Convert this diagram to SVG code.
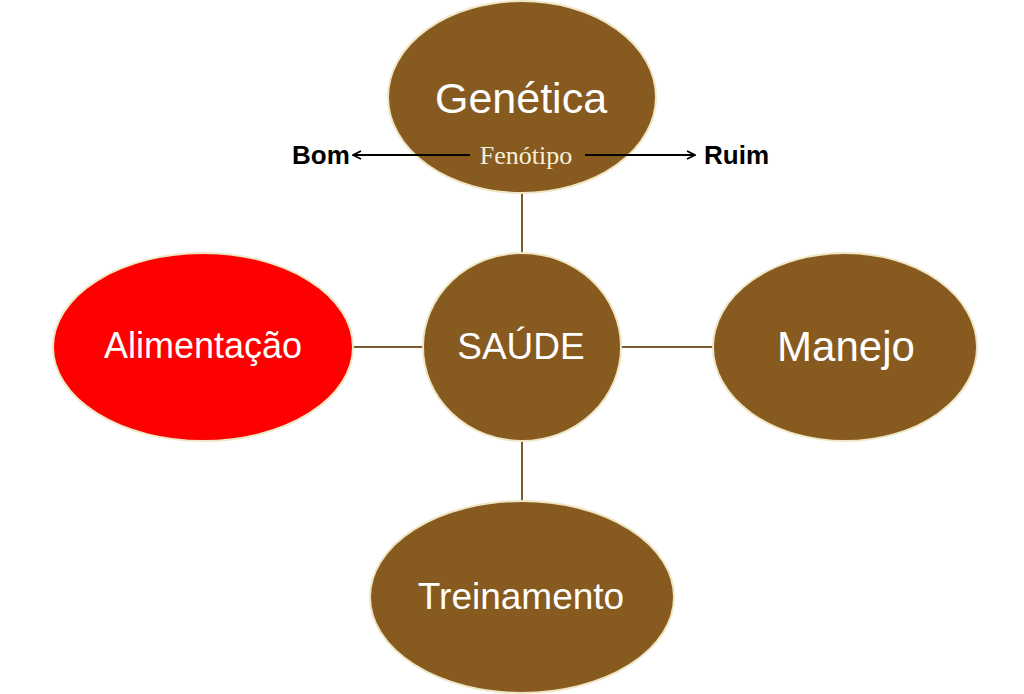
<svg xmlns="http://www.w3.org/2000/svg" width="1024" height="694" viewBox="0 0 1024 694">
<defs>
<style>
.n{fill:#875a1f;stroke:#efe6c4;stroke-width:2}
.t{font-family:"Liberation Sans",Arial,sans-serif;fill:#fff;text-anchor:middle}
.c{stroke:#7a5a2e;stroke-width:2;fill:none}
.a{stroke:#000;stroke-width:2;fill:none}
.b{font-family:"Liberation Sans",Arial,sans-serif;font-weight:bold;font-size:26px;fill:#000}
</style>
<marker id="ah" viewBox="0 0 10 10" refX="9" refY="5" markerWidth="10" markerHeight="10" markerUnits="userSpaceOnUse" orient="auto">
<path d="M1,1 L9,5 L1,9" fill="none" stroke="#000" stroke-width="1.8"/>
</marker>
</defs>
<rect width="1024" height="694" fill="#fff"/>
<g id="connectors">
<line class="c" x1="522" y1="193" x2="522" y2="253"/>
<line class="c" x1="354" y1="347" x2="423" y2="347"/>
<line class="c" x1="621" y1="347" x2="713" y2="347"/>
<line class="c" x1="522" y1="440" x2="522" y2="501"/>
</g>
<g id="genetica">
<ellipse class="n" cx="522" cy="97" rx="134" ry="96"/>
<text class="t" x="521" y="113" font-size="43">Genética</text>
<text x="526" y="164" font-family="'Liberation Serif','Times New Roman',serif" font-size="26" fill="#f7efdc" text-anchor="middle">Fenótipo</text>
</g>
<g id="bom">
<line class="a" x1="470" y1="155" x2="353" y2="155" marker-end="url(#ah)"/>
<text class="b" x="292" y="164">Bom</text>
</g>
<g id="ruim">
<line class="a" x1="585" y1="155" x2="695" y2="155" marker-end="url(#ah)"/>
<text class="b" x="704" y="164">Ruim</text>
</g>
<g id="saude">
<ellipse class="n" cx="522" cy="347" rx="99" ry="94"/>
<text class="t" x="521" y="359" font-size="37">SAÚDE</text>
</g>
<g id="alimentacao">
<ellipse cx="203" cy="347" rx="150" ry="94" fill="#fe0000" stroke="#efe6c4" stroke-width="2"/>
<text class="t" x="203" y="358" font-size="36">Alimentação</text>
</g>
<g id="manejo">
<ellipse class="n" cx="845" cy="347" rx="132" ry="94"/>
<text class="t" x="846" y="361" font-size="42">Manejo</text>
</g>
<g id="treinamento">
<ellipse class="n" cx="522" cy="597" rx="152" ry="96"/>
<text class="t" x="521" y="609" font-size="37">Treinamento</text>
</g>
</svg>
